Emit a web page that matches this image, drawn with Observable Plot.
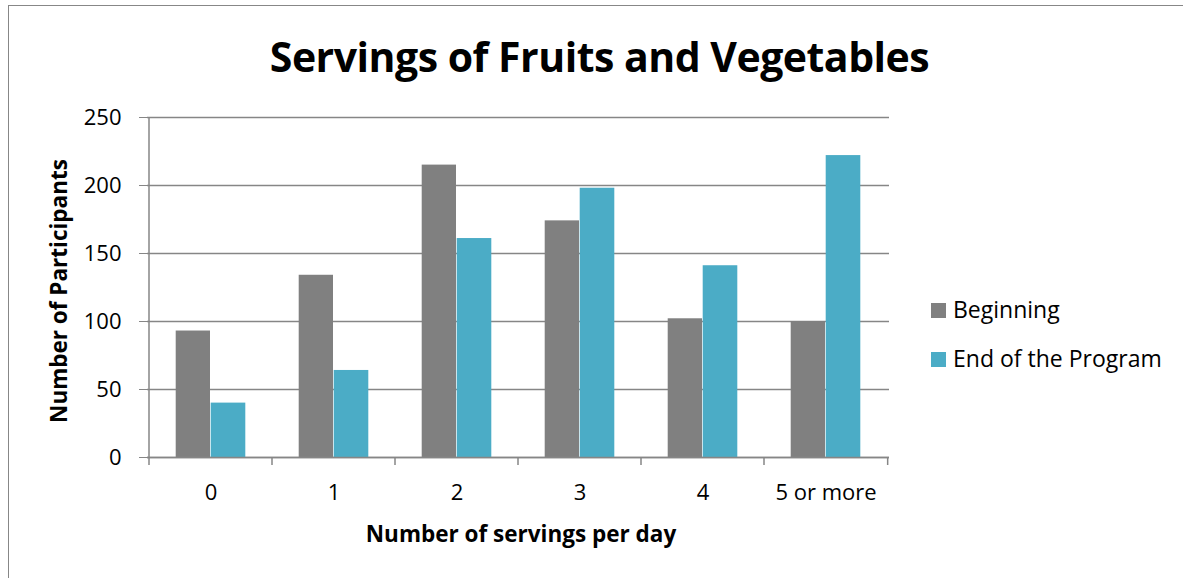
<!DOCTYPE html>
<html>
<head>
<meta charset="utf-8">
<script src="https://cdn.jsdelivr.net/npm/d3@7"></script>
<script src="https://cdn.jsdelivr.net/npm/@observablehq/plot@0.6"></script>
<style>
  html, body { margin: 0; padding: 0; background: #fff; }
  #wrap { position: relative; width: 1183px; height: 578px; overflow: hidden; font-family: "Open Sans", sans-serif; color: #000; }
  #border { position: absolute; left: 8px; top: 5px; width: 1300px; height: 700px; border: 1.5px solid #878787; box-sizing: border-box; }
  #title { position: absolute; left: 0; width: 1199px; top: 27px; text-align: center; font-weight: 700; font-size: 41px; letter-spacing: -0.5px; line-height: 58px; }
  #chart { position: absolute; left: 0; top: 0; }
  #ylabel { position: absolute; left: 58px; top: 291px; transform: translate(-50%, -50%) rotate(-90deg); font-weight: 700; font-size: 22.5px; white-space: nowrap; }
  #xlabel { position: absolute; left: 521px; top: 533px; transform: translate(-50%, -50%); font-weight: 700; font-size: 22.5px; white-space: nowrap; }
  .leg { position: absolute; left: 931px; font-size: 23px; white-space: nowrap; line-height: 26px; }
  .leg span.sw { position: absolute; left: 0; top: 5px; width: 15px; height: 15px; }
  .leg span.tx { position: absolute; left: 22px; top: -2px; }
</style>
</head>
<body>
<div id="wrap">
  <div id="border"></div>
  <div id="title">Servings of Fruits and Vegetables</div>
  <div id="chart"></div>
  <div id="ylabel">Number of Participants</div>
  <div id="xlabel">Number of servings per day</div>
  <div class="leg" id="leg1" style="top:298px"><span class="sw" style="background:#808080"></span><span class="tx">Beginning</span></div>
  <div class="leg" id="leg2" style="top:347px"><span class="sw" style="background:#4BACC6"></span><span class="tx">End of the Program</span></div>
</div>
<script>
const categories = ["0", "1", "2", "3", "4", "5 or more"];
const beginning = [93, 134, 215, 174, 102, 100];
const endOfProgram = [40, 64, 161, 198, 141, 222];
const yTicks = [0, 50, 100, 150, 200, 250];
const seriesNames = ["Beginning", "End of the Program"];
const seriesColors = ["#808080", "#4BACC6"];

const begData = categories.map((c, i) => ({category: c, value: beginning[i], series: seriesNames[0]}));
const endData = categories.map((c, i) => ({category: c, value: endOfProgram[i], series: seriesNames[1]}));

const gridColor = "#868686";

// boundary ticks below the x axis, plus the vertical y-axis line, drawn from the scales
const axisFrame = (index, scales, values, dimensions) => {
  const x = scales.x;
  const y = scales.y;
  const step = (dimensions.width - dimensions.marginLeft - dimensions.marginRight) / categories.length;
  const edges = categories.map(c => x(c)).concat([x(categories[categories.length - 1]) + step]);
  const g = d3.create("svg:g");
  const y0 = y(0);
  g.selectAll("line.t").data(edges).join("line")
    .attr("class", "t")
    .attr("x1", d => d).attr("x2", d => d)
    .attr("y1", y0).attr("y2", y0 + 8)
    .attr("stroke", gridColor).attr("stroke-width", 1.5);
  g.append("line")
    .attr("x1", edges[0]).attr("x2", edges[0])
    .attr("y1", y(yTicks[yTicks.length - 1])).attr("y2", y0)
    .attr("stroke", gridColor).attr("stroke-width", 1.5);
  return g.node();
};

const chart = Plot.plot({
  width: 900,
  height: 578,
  marginLeft: 147,
  marginRight: 11,
  marginTop: 117,
  marginBottom: 121,
  style: {fontFamily: "Open Sans, sans-serif", fontSize: "22px", color: "#000", background: "transparent", overflow: "visible"},
  x: {domain: categories, padding: 0, label: null},
  y: {domain: [0, 250], label: null},
  marks: [
    Plot.gridY(yTicks, {stroke: gridColor, strokeOpacity: 1, strokeWidth: 1.5}),
    Plot.barY(begData, {x: "category", y: "value", fill: seriesColors[0], insetLeft: 26.7, insetRight: 62}),
    Plot.barY(endData, {x: "category", y: "value", fill: seriesColors[1], insetLeft: 61.7, insetRight: 26.7}),
    Plot.ruleY([0], {stroke: gridColor, strokeWidth: 1.5}),
    Plot.axisY({ticks: yTicks, tickSize: 8, tickPadding: 18, stroke: gridColor, fill: "#000", fontSize: 22, label: null}),
    Plot.axisX({tickSize: 0, tickPadding: 27, fill: "#000", fontSize: 22, label: null}),
    axisFrame
  ]
});

document.getElementById("chart").appendChild(chart);
</script>
</body>
</html>
